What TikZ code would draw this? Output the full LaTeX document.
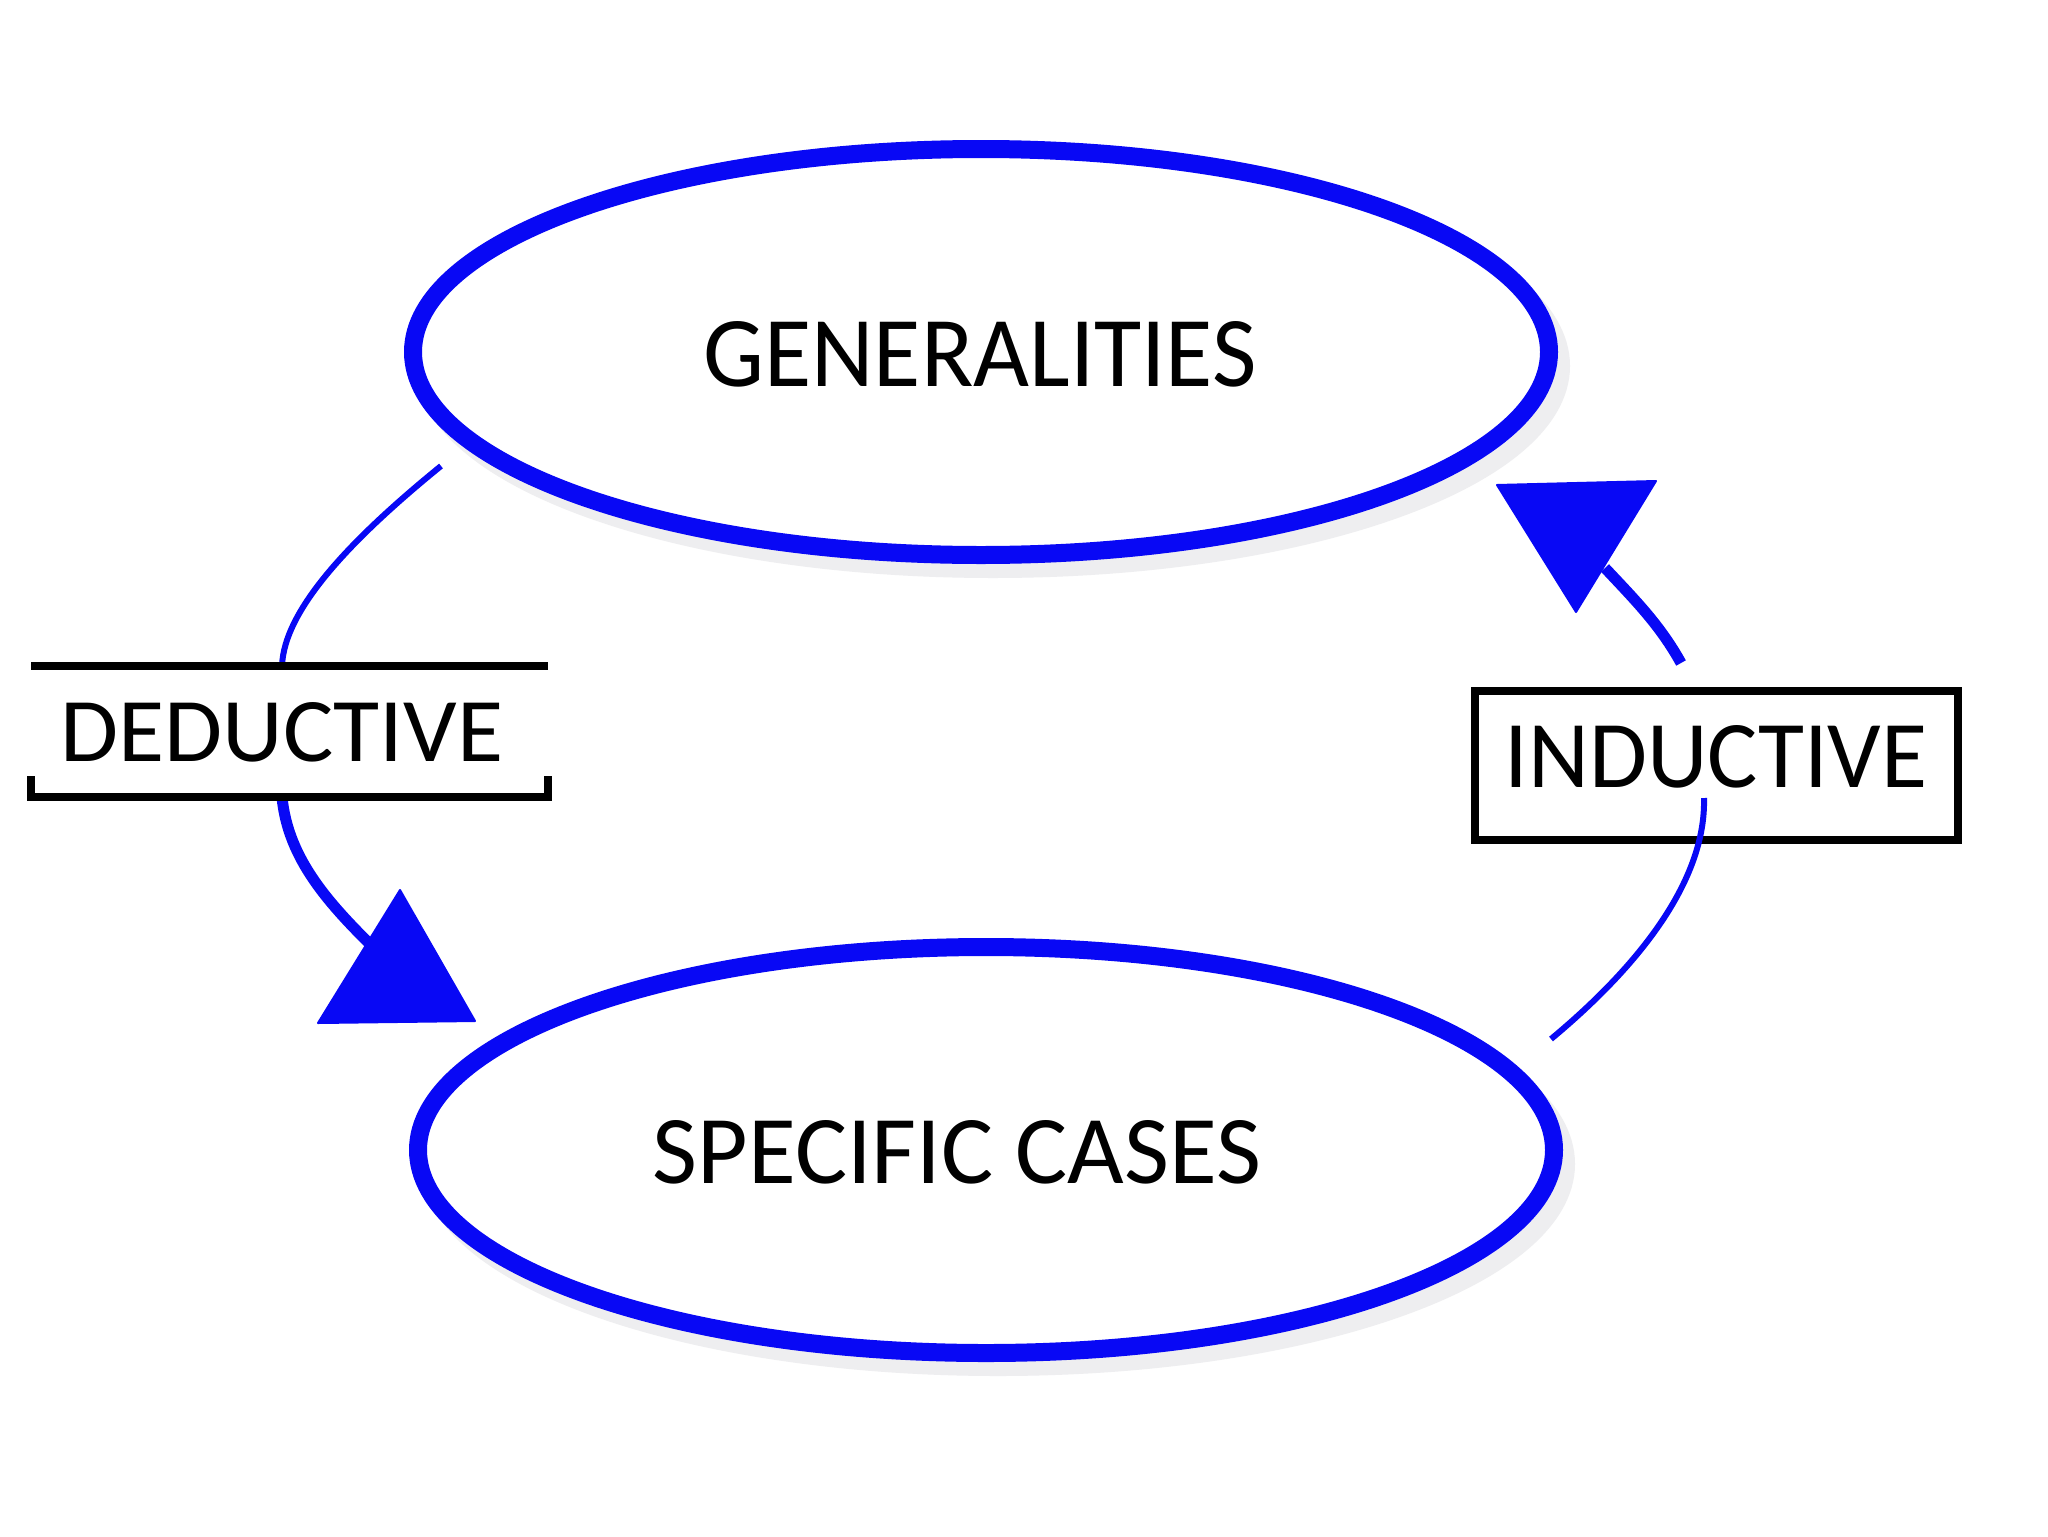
\documentclass[tikz,border=0pt]{standalone}
\usepackage{fontspec}
\setmainfont{Carlito}
\usetikzlibrary{shapes.geometric}
\definecolor{arcblue}{RGB}{8,8,245}
\definecolor{shade}{RGB}{238,238,240}
\tikzset{
  px/.style={x=0.5pt,y=-0.5pt},
  bubble/.style={ellipse,draw=arcblue,line width=9pt,fill=white,inner sep=0pt,
    minimum width=568pt,minimum height=203pt},
  bubbleshadow/.style={ellipse,draw=shade,line width=9pt,inner sep=0pt,
    minimum width=568pt,minimum height=203pt},
  word/.style={inner sep=0pt,text=black},
  thinarc/.style={draw=arcblue,line width=3pt},
  thickarc/.style={draw=arcblue,line width=5.5pt},
  headtip/.style={fill=arcblue,draw=arcblue,line width=1pt,line join=round},
  labelline/.style={draw=black,line width=4pt}
}
\begin{document}
\begin{tikzpicture}[px]
\useasboundingbox[fill=white] (0,0) rectangle (2048,1536);
% shadows
\node[bubbleshadow] at (993,366) {};
\node[bubbleshadow] at (998,1164) {};
% main ellipses
\node[bubble] (gen) at (981,352) {};
\node[bubble] (spec) at (986,1150) {};
\node[word] at (980,354) {\resizebox{276.5pt}{32.5pt}{GENERALITIES}};
\node[word] at (957,1152) {\resizebox{304pt}{31.5pt}{SPECIFIC CASES}};
% label boxes
\node[inner sep=0pt,minimum width=258pt,minimum height=65.5pt] (dedbox) at (289.5,731.5) {};
\node[word] (ded) at (282,732) {\resizebox{221.5pt}{29.5pt}{DEDUCTIVE}};
\node[draw=black,line width=4pt,fill=white,inner sep=0pt,minimum width=241.5pt,minimum height=74.5pt] (indbox) at (1716.5,765.5) {};
\node[word] (ind) at (1716,757) {\resizebox{211.5pt}{31pt}{INDUCTIVE}};
% deductive connector
\coordinate (d0) at (441,466);
\coordinate (d1) at (282,666);
\coordinate (d2) at (282,797);
\coordinate (d3) at (378,952);
\draw[thinarc] (d0) .. controls (350,540) and (284,610) .. (d1);
\draw[thickarc] (d2) .. controls (288,860) and (330,905) .. (d3);
\fill[headtip] (400,890) -- (318,1023) -- (475,1021) -- cycle;
\draw[labelline] (dedbox.north west) -- (dedbox.north east);
\draw[labelline] ([yshift=10.5pt]dedbox.south west) -- (dedbox.south west) -- (dedbox.south east) -- ([yshift=10.5pt]dedbox.south east);
% inductive connector
\coordinate (i0) at (1551,1039);
\coordinate (i1) at (1704,798);
\coordinate (i2) at (1681,663);
\coordinate (i3) at (1605,568);
\draw[thinarc] (i0) .. controls (1640,965) and (1706,880) .. (i1);
\draw[thickarc] (i2) .. controls (1660,625) and (1635,600) .. (i3);
\fill[headtip] (1497,485) -- (1656,481) -- (1576,612) -- cycle;
\end{tikzpicture}
\end{document}
